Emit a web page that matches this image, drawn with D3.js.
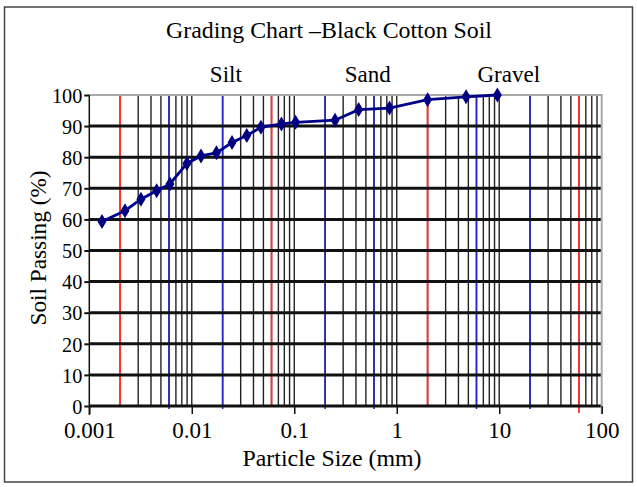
<!DOCTYPE html>
<html>
<head>
<meta charset="utf-8">
<script src="https://cdn.jsdelivr.net/npm/d3@7"></script>
<style>
  html, body { margin: 0; padding: 0; background: #fff; }
  svg { display: block; font-family: "Liberation Serif", "Times New Roman", serif; }
</style>
</head>
<body>
<svg id="chart" width="637" height="487"></svg>
<script>
// Sieve / hydrometer results for black cotton soil
const particleSize = [0.00133, 0.00223, 0.00319, 0.00454, 0.00612, 0.00897, 0.0123, 0.0174, 0.0247, 0.0344, 0.0473, 0.075, 0.103, 0.25, 0.425, 0.85, 2.0, 4.75, 9.6];
const percentPassing = [59.3, 62.8, 66.5, 69.2, 71.4, 78.0, 80.4, 81.4, 84.7, 87.0, 89.6, 90.7, 91.2, 91.9, 95.3, 95.8, 98.5, 99.4, 100];

const xTickValues = [0.001, 0.01, 0.1, 1, 10, 100];
const xTickLabels = ["0.001", "0.01", "0.1", "1", "10", "100"];
const yTickValues = [0, 10, 20, 30, 40, 50, 60, 70, 80, 90, 100];

// Soil fraction boundaries (coarse / medium / fine subdivisions)
const redBoundaries = [0.002, 0.06, 2, 60];
const blueBoundaries = [0.006, 0.02, 0.2, 0.6, 6, 20];
const zoneNames = ["Silt", "Sand", "Gravel"];
const zoneCentres = [0.0215, 0.52, 12.4];

const titleText = "Grading Chart \u2013Black Cotton Soil";
const xTitle = "Particle Size (mm)";
const yTitle = "Soil Passing (%)";

const svg = d3.select("#chart");
const plotLeft = 89.3, plotRight = 601.7, plotTop = 95, plotBottom = 406;

const x = d3.scaleLog().domain([0.001, 100]).range([plotLeft, plotRight]);
const y = d3.scaleLinear().domain([0, 100]).range([plotBottom, plotTop]);

// outer frame
svg.append("rect")
  .attr("x", 4.5).attr("y", 7).attr("width", 628).attr("height", 475)
  .attr("fill", "#fff").attr("stroke", "#444").attr("stroke-width", 1.5);

// log grid: 1..9 in every decade
const minor = [];
for (let e = -3; e <= 1; e++) {
  for (let k = 1; k <= 9; k++) minor.push(k * Math.pow(10, e));
}
const g = svg.append("g");
g.selectAll("line.vgrid")
  .data(minor.filter(v => v > 0.001))
  .enter().append("line")
  .attr("class", "vgrid")
  .attr("x1", d => x(d)).attr("x2", d => x(d))
  .attr("y1", plotTop).attr("y2", plotBottom)
  .attr("stroke", "#222").attr("stroke-width", 1.4);

g.selectAll("line.red")
  .data(redBoundaries)
  .enter().append("line")
  .attr("class", "red")
  .attr("x1", d => x(d)).attr("x2", d => x(d))
  .attr("y1", plotTop).attr("y2", d => d > 10 ? plotBottom + 7 : plotBottom)
  .attr("stroke", "#ff3030").attr("stroke-width", 1.8);

g.selectAll("line.blue")
  .data(blueBoundaries)
  .enter().append("line")
  .attr("class", "blue")
  .attr("x1", d => x(d)).attr("x2", d => x(d))
  .attr("y1", plotTop).attr("y2", plotBottom + 3)
  .attr("stroke", "#2424c8").attr("stroke-width", 1.6);

// horizontal grid
g.selectAll("line.hgrid")
  .data(yTickValues.filter(v => v < 100))
  .enter().append("line")
  .attr("class", "hgrid")
  .attr("x1", plotLeft).attr("x2", plotRight)
  .attr("y1", d => y(d)).attr("y2", d => y(d))
  .attr("stroke", "#111").attr("stroke-width", 3);

// plot area border (top and right)
g.append("line").attr("x1", plotLeft).attr("x2", plotRight + 1)
  .attr("y1", y(100)).attr("y2", y(100))
  .attr("stroke", "#a8a8a8").attr("stroke-width", 2);
g.append("line").attr("x1", plotRight).attr("x2", plotRight)
  .attr("y1", plotTop).attr("y2", plotBottom + 8)
  .attr("stroke", "#a8a8a8").attr("stroke-width", 2);

// axes
const xAxis = d3.axisBottom(x)
  .tickValues(xTickValues)
  .tickFormat((d, i) => xTickLabels[i])
  .tickSize(8).tickPadding(5);
const xa = svg.append("g").attr("transform", `translate(0,${plotBottom})`).call(xAxis);
xa.select(".domain").remove();
xa.selectAll(".tick line").attr("stroke", "#111").attr("stroke-width", 1.5);
xa.selectAll(".tick text")
  .attr("font-family", "Liberation Serif").attr("font-size", 23)
  .attr("fill", "#000").attr("y", 32).attr("dy", null);

const yAxis = d3.axisLeft(y)
  .tickValues(yTickValues)
  .tickSize(5).tickPadding(2);
const ya = svg.append("g").attr("transform", `translate(${plotLeft},0)`).call(yAxis);
ya.select(".domain").attr("d", `M0,${plotTop}V${plotBottom + 9}`)
  .attr("stroke", "#111").attr("stroke-width", 1.5);
ya.selectAll(".tick line").attr("stroke", "#111").attr("stroke-width", 2);
ya.selectAll(".tick text")
  .attr("font-family", "Liberation Serif").attr("font-size", 22)
  .attr("fill", "#000").attr("dy", "0.33em")
  .attr("textLength", function () { return this.getComputedTextLength() * 0.92; })
  .attr("lengthAdjust", "spacingAndGlyphs");

// grading curve
const pts = particleSize.map((d, i) => [d, percentPassing[i]]);
svg.append("path")
  .datum(pts)
  .attr("d", d3.line().x(d => x(d[0])).y(d => y(d[1])))
  .attr("fill", "none").attr("stroke", "#000088").attr("stroke-width", 2.8);

svg.selectAll("path.marker")
  .data(pts)
  .enter().append("path")
  .attr("class", "marker")
  .attr("transform", d => `translate(${x(d[0])},${y(d[1])})`)
  .attr("d", "M0,-7.5L4.5,0L0,7.5L-4.5,0Z")
  .attr("fill", "#000080");

// titles
svg.append("text")
  .attr("x", 329).attr("y", 38)
  .attr("text-anchor", "middle").attr("font-size", 24)
  .attr("textLength", 326).attr("lengthAdjust", "spacingAndGlyphs")
  .text(titleText);

svg.selectAll("text.zone")
  .data(zoneNames)
  .enter().append("text")
  .attr("class", "zone")
  .attr("x", (d, i) => x(zoneCentres[i])).attr("y", 82)
  .attr("text-anchor", "middle").attr("font-size", 23)
  .text(d => d);

svg.append("text")
  .attr("x", 332).attr("y", 466)
  .attr("text-anchor", "middle").attr("font-size", 23)
  .attr("textLength", 179).attr("lengthAdjust", "spacingAndGlyphs")
  .text(xTitle);

svg.append("text")
  .attr("transform", "translate(46,248) rotate(-90)")
  .attr("text-anchor", "middle").attr("font-size", 23)
  .attr("textLength", 155).attr("lengthAdjust", "spacingAndGlyphs")
  .text(yTitle);
</script>
</body>
</html>
